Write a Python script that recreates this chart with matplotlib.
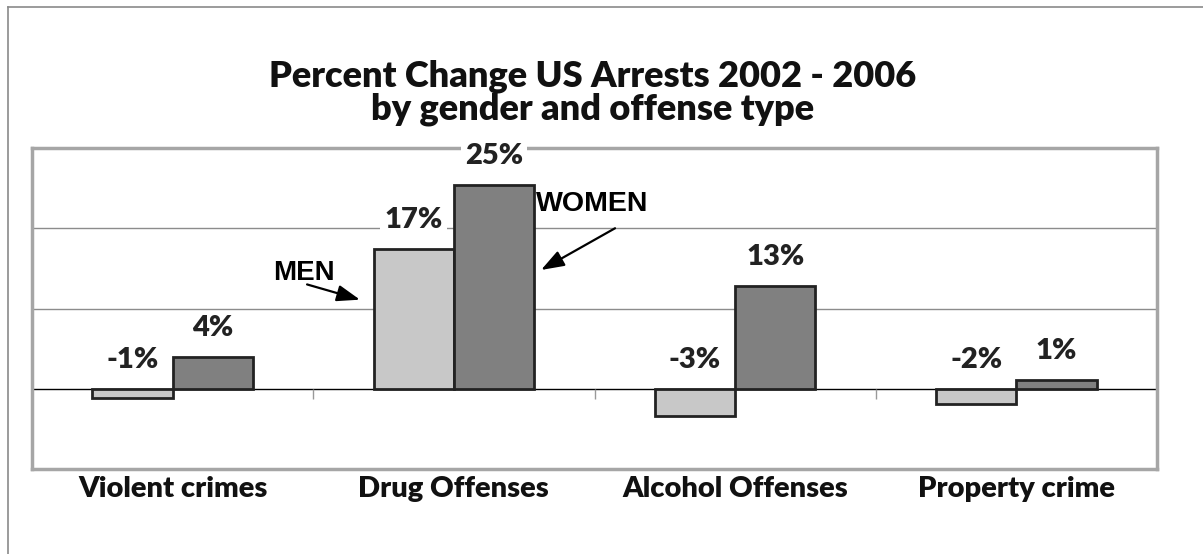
import matplotlib
matplotlib.use('Agg')
import matplotlib.pyplot as plt
from matplotlib.lines import Line2D

categories = ['Violent crimes', 'Drug Offenses', 'Alcohol Offenses', 'Property crime']
men = [-1.2, 17.4, -3.4, -1.9]
women = [3.9, 25.4, 12.8, 1.1]
title_lines = ['Percent Change US Arrests 2002 - 2006', 'by gender and offense type']

MEN_COLOR = '#C8C8C8'
WOMEN_COLOR = '#808080'
EDGE = '#222222'
FONT = 'Lato'
WEIGHT = 'heavy'

fig = plt.figure(figsize=(12.03, 5.54), dpi=100)
fig.patch.set_facecolor('white')
ax = fig.add_axes([32 / 1203, 1 - 469 / 554, (1157 - 32) / 1203, (469 - 148) / 554])

x = list(range(len(categories)))
w = 0.285
ax.bar([i - w / 2 for i in x], men, width=w, color=MEN_COLOR, edgecolor=EDGE, linewidth=2, zorder=3)
ax.bar([i + w / 2 for i in x], women, width=w, color=WOMEN_COLOR, edgecolor=EDGE, linewidth=2, zorder=3)

ax.set_xlim(-0.5, 3.5)
ax.set_ylim(-10, 30)
ax.set_yticks([])
for g in [10, 20]:
    ax.axhline(g, color='#8c8c8c', lw=1, zorder=1)
ax.axhline(0, color='black', lw=1, zorder=2)
# little category separators under the zero line
ax.vlines([i + 0.5 for i in x[:-1]], -1.3, 0, color='#999999', lw=1, zorder=2)

for s in ax.spines.values():
    s.set_color('#A6A6A6')
    s.set_linewidth(2.5)

ax.set_xticks(x)
ax.set_xticklabels(categories, fontsize=21, fontweight=WEIGHT, family=FONT, color='#111111')
ax.tick_params(axis='x', length=0, pad=5)

# value labels
def label(xpos, v):
    off = 21 if v >= 0 else 21
    ax.annotate(f'{round(v):.0f}%', (xpos, max(v, 0)), xytext=(0, off), textcoords='offset points',
                ha='center', va='center', fontsize=21, fontweight=WEIGHT, family=FONT, color='#222222',
                bbox=dict(boxstyle='square,pad=0.15', fc='white', ec='none'), zorder=5, annotation_clip=False)

for i in x:
    label(i - w / 2, men[i])
    label(i + w / 2, women[i])

# MEN / WOMEN callouts
arrow = dict(arrowstyle='-|>,head_length=1.4,head_width=0.5', color='black', lw=1.6, shrinkA=0, shrinkB=0)
ax.annotate('', xy=(0.666, 11.1), xytext=(0.478, 13.0), arrowprops=arrow, zorder=6)
ax.text(0.357, 14.4, 'MEN', fontsize=20, fontweight='bold', family='Liberation Sans', ha='left', va='center', zorder=6)
ax.annotate('', xy=(1.31, 14.8), xytext=(1.573, 20.0), arrowprops=arrow, zorder=6)
ax.text(1.292, 23.0, 'WOMEN', fontsize=20.5, fontweight='bold', family='Liberation Sans', ha='left', va='center', zorder=6)

fig.text(593 / 1203, 1 - 76 / 554, title_lines[0], ha='center', va='center', fontsize=26, fontweight=WEIGHT, family=FONT, color='#111111')
fig.text(593 / 1203, 1 - 109 / 554, title_lines[1], ha='center', va='center', fontsize=26, fontweight=WEIGHT, family=FONT, color='#111111')

# outer frame (top and left edges)
fig.add_artist(Line2D([8 / 1203, 1], [1 - 7 / 554, 1 - 7 / 554], transform=fig.transFigure, color='#8a8a8a', lw=1.2))
fig.add_artist(Line2D([8 / 1203, 8 / 1203], [0, 1 - 7 / 554], transform=fig.transFigure, color='#8a8a8a', lw=1.2))

fig.savefig('out.png', dpi=100, facecolor='white')
